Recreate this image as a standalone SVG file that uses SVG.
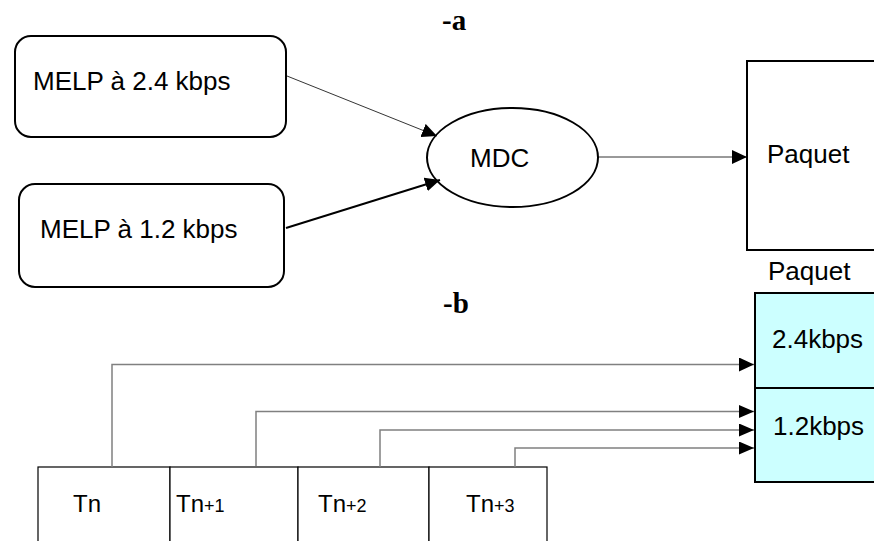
<svg xmlns="http://www.w3.org/2000/svg" width="874" height="541" viewBox="0 0 874 541">
<defs>
<style>
.lbl{font-family:"Liberation Sans",Arial,sans-serif;font-size:26px;fill:#000}
.t{font-size:24px}
.sub{font-size:18px}
.ttl{font-family:"Liberation Serif","Times New Roman",serif;font-size:29px;font-weight:bold;fill:#000}
.box{fill:#fff;stroke:#000;stroke-width:2}
.cell{fill:#fff;stroke:#000;stroke-width:1.2}
.pk{fill:#ccffff;stroke:#000;stroke-width:2}
.c{fill:none;stroke:#000}
.g{fill:none;stroke:#808080;stroke-width:1.5}
</style>
<marker id="ah" markerUnits="userSpaceOnUse" markerWidth="16" markerHeight="14" refX="15" refY="7" orient="auto">
<path d="M0,0 L15,7 L0,14 Z" fill="#000"/>
</marker>
<marker id="ah2" markerUnits="userSpaceOnUse" markerWidth="16" markerHeight="14" refX="15" refY="6.5" orient="auto">
<path d="M0,0 L15,6.5 L0,13 Z" fill="#000"/>
</marker>
</defs>
<rect width="874" height="541" fill="#fff"/>
<text class="ttl" x="442" y="30">-a</text>
<text class="ttl" x="443" y="313">-b</text>
<g id="melp24">
<rect class="box" x="15" y="36" width="271" height="101" rx="16"/>
<text class="lbl" x="33" y="90">MELP à 2.4 kbps</text>
</g>
<g id="melp12">
<rect class="box" x="19" y="184" width="265" height="103" rx="16"/>
<text class="lbl" x="40" y="238">MELP à 1.2 kbps</text>
</g>
<g id="mdc">
<ellipse class="box" cx="512.5" cy="157.5" rx="85.5" ry="49.5"/>
<text class="lbl" x="470" y="167">MDC</text>
</g>
<g id="paquet">
<rect class="box" x="747" y="61" width="140" height="189"/>
<text class="lbl" x="767" y="163">Paquet</text>
</g>
<text class="lbl" x="768" y="280">Paquet</text>
<g id="paquet-b">
<rect class="pk" x="755" y="293" width="130" height="95"/>
<rect class="pk" x="755" y="388" width="130" height="94"/>
<text class="lbl" x="772" y="348">2.4kbps</text>
<text class="lbl" x="773" y="435">1.2kbps</text>
</g>
<g id="tn">
<rect class="cell" x="38" y="467" width="132" height="90"/>
<text class="lbl t" x="73" y="512">Tn</text>
</g>
<g id="tn1">
<rect class="cell" x="170" y="467" width="128" height="90"/>
<text class="lbl t" x="176" y="512">Tn<tspan class="sub">+1</tspan></text>
</g>
<g id="tn2">
<rect class="cell" x="298" y="467" width="131" height="90"/>
<text class="lbl t" x="318" y="512">Tn<tspan class="sub">+2</tspan></text>
</g>
<g id="tn3">
<rect class="cell" x="429" y="467" width="118" height="90"/>
<text class="lbl t" x="466" y="512">Tn<tspan class="sub">+3</tspan></text>
</g>
<g id="connectors">
<line class="c" x1="287" y1="76" x2="437" y2="136" stroke-width="0.8" marker-end="url(#ah)"/>
<line class="c" x1="286" y1="228" x2="440" y2="180" stroke-width="2" marker-end="url(#ah)"/>
<line class="c" x1="598" y1="157" x2="747" y2="157" stroke-width="0.8" marker-end="url(#ah)"/>
<polyline class="g" points="112,467 112,364.5 754,364.5" marker-end="url(#ah)"/>
<polyline class="g" points="256,466 256,411.5 754,411.5" marker-end="url(#ah2)"/>
<polyline class="g" points="380,467 380,430 754,430" marker-end="url(#ah2)"/>
<polyline class="g" points="515,467 515,448 754,448" marker-end="url(#ah2)"/>
</g>
</svg>
